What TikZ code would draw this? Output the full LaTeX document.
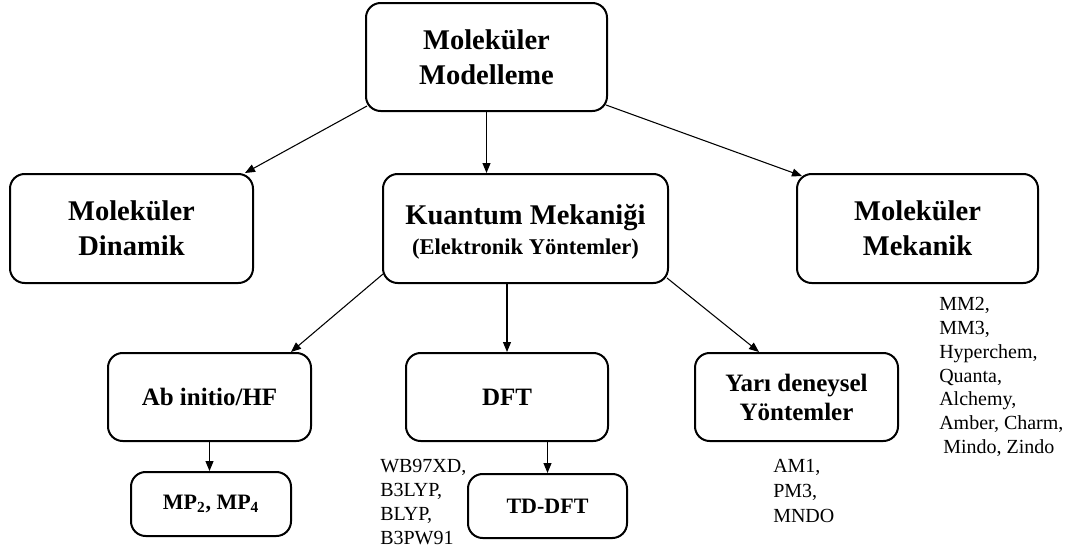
\documentclass[tikz,border=0pt]{standalone}
\usepackage{fontspec}
\setmainfont{Liberation Serif}
\usetikzlibrary{arrows.meta,calc}
\begin{document}
\begin{tikzpicture}[x=0.75pt,y=-0.75pt,
  box/.style={draw, line width=1.5pt, rounded corners=11pt, inner sep=0pt, align=center},
  sz/.style 2 args={minimum width=#1*0.75pt, minimum height=#2*0.75pt},
  big/.style={font=\fontsize{21.4}{26.25}\selectfont\bfseries},
  mid/.style={font=\fontsize{18.75}{21.75}\selectfont\bfseries},
  small/.style={font=\fontsize{16.5}{20}\selectfont\bfseries},
  list/.style={font=\fontsize{15}{17.8}\selectfont, align=left, inner sep=0pt, anchor=base west},
  arr/.style={line width=0.8pt, -{Triangle[length=7.5pt,width=6pt]}}
]
\useasboundingbox (0,0) rectangle (1077,554);
% boxes
\node[box,big,sz={241}{108}] (top) at (486.5,57) {Moleküler\\Modelleme};
\node[box,big,sz={243}{109}] (dyn) at (131.5,228.5) {Moleküler\\Dinamik};
\node[box,big,sz={285}{109}] (qm) at (525.5,228.5) {\rule{0pt}{19.7pt}Kuantum Mekaniği\\[-3.75pt]{\fontsize{16.9}{20}\selectfont(Elektronik Yöntemler)}};
\node[box,big,sz={241}{109}] (mm) at (917.5,228.5) {Moleküler\\Mekanik};
\node[box,mid,sz={203}{88}] (ab) at (209.5,397) {Ab initio/HF};
\node[box,mid,sz={202}{88}] (dft) at (507,397) {DFT};
\node[box,mid,sz={203}{88}] (semi) at (796.5,397) {Yarı deneysel\\Yöntemler};
\node[box,small,sz={160}{64}] (mp) at (211,504) {MP\textsubscript{2}, MP\textsubscript{4}};
\node[box,small,sz={159}{64}] (td) at (547.5,506) {TD-DFT};
% lists (anchored at the baseline of their last line)
\node[list] (mmlist) at (939,453.3) {MM2,\\MM3,\\Hyperchem,\\Quanta,\\Alchemy,\\Amber, Charm,\\\hspace*{3pt}Mindo, Zindo};
\node[list] (dftlist) at (380,544) {WB97XD,\\B3LYP,\\BLYP,\\B3PW91};
\node[list, font=\fontsize{15}{18.75}\selectfont] (semilist) at (773,522) {AM1,\\PM3,\\MNDO};
% connectors
\draw[arr] ($(top.south west)+(2,-6)$) -- ($(dyn.north east)+(-9,0)$);
\draw[arr] (top.south) -- (top.south |- qm.north);
\draw[arr] ($(top.south east)+(-2,-7)$) -- ($(mm.north west)+(6,3)$);
\draw[arr] ($(qm.south west)+(1,-10)$) -- ($(ab.north east)+(-21,0)$);
\draw[arr] (dft.north |- qm.south) -- (dft.north);
\draw[arr] ($(qm.south east)+(-2,-6)$) -- ($(semi.north west)+(65,0)$);
\draw[arr] (ab.south) -- (ab.south |- mp.north);
\draw[arr] (td.north |- dft.south) -- (td.north);
\end{tikzpicture}
\end{document}
